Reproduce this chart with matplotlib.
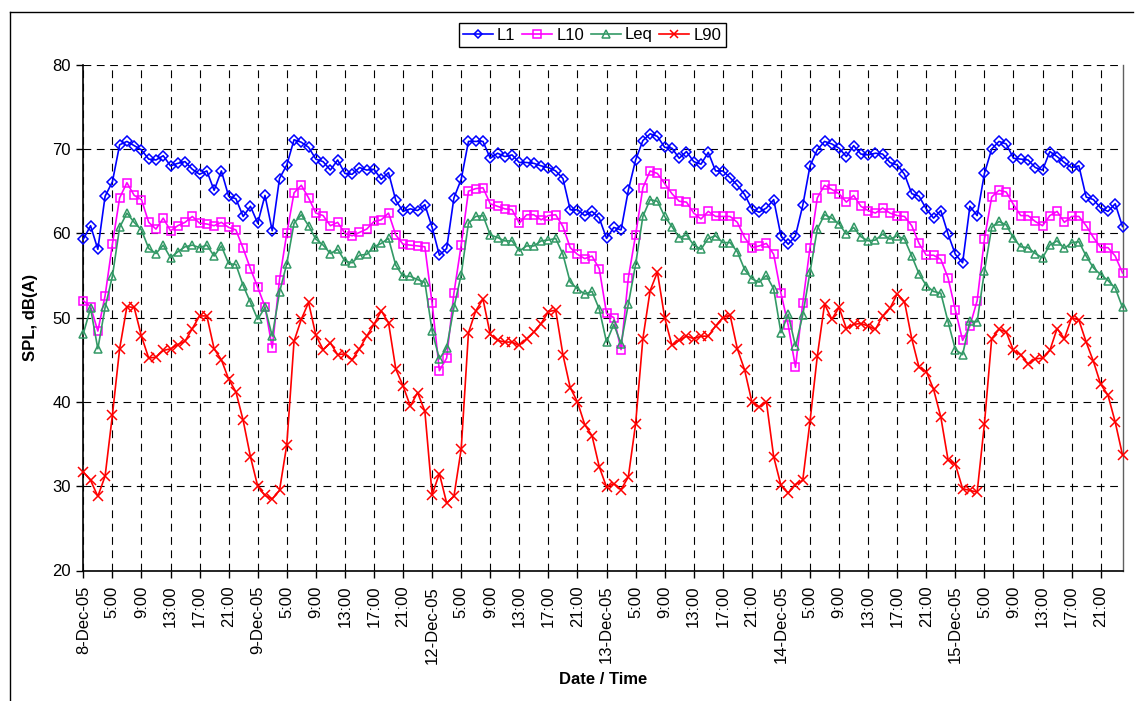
import matplotlib
matplotlib.use("Agg")
import matplotlib.pyplot as plt
from matplotlib.lines import Line2D

plt.rcParams['font.family'] = ['Liberation Sans', 'DejaVu Sans']

tick_labels = []
days = ["8-Dec-05", "9-Dec-05", "12-Dec-05", "13-Dec-05", "14-Dec-05", "15-Dec-05"]
hours = ["5:00", "9:00", "13:00", "17:00", "21:00"]
for d in days:
    tick_labels.append(d)
    tick_labels.extend(hours)

L1 = [59.3, 60.9, 58.1, 64.4, 66.1, 70.5, 70.9, 70.4, 69.9, 68.8, 68.7, 69.2, 68.0, 68.3, 68.5, 67.6,
      67.0, 67.4, 65.1, 67.4, 64.4, 64.1, 62.0, 63.2, 61.2, 64.5, 60.3, 66.5, 68.1, 71.1, 70.8, 70.2,
      68.8, 68.5, 67.5, 68.7, 67.1,
      67.0, 67.8, 67.5, 67.6, 66.4, 67.2, 63.9, 62.6, 62.9, 62.7, 63.4, 60.7, 57.4, 58.2, 64.2, 66.4,
      70.9, 70.9, 70.9, 68.9, 69.5, 69.1, 69.3, 68.4, 68.4, 68.3, 68.0, 67.8, 67.4, 66.5, 62.8, 62.8,
      62.1, 62.6, 61.8, 59.4,
      60.7, 60.4, 65.1, 68.7, 71.0, 71.8, 71.5, 70.2, 70.1, 68.9, 69.7, 68.5, 68.2, 69.6, 67.4, 67.4,
      66.6, 65.7, 64.6, 62.9, 62.5, 63.0, 64.0, 59.7, 58.7, 59.7, 63.3, 68.0, 69.9, 70.9, 70.6, 70.1,
      69.1, 70.4, 69.4, 69.3,
      69.5, 69.4, 68.4, 68.1, 67.0, 64.7, 64.4, 62.9, 61.8, 62.7, 59.9, 57.5, 56.5, 63.2, 62.1, 67.1,
      70.0, 70.9, 70.6, 68.9, 68.8, 68.7, 67.8, 67.5, 69.7, 69.1, 68.4, 67.8, 68.0, 64.3, 64.0, 63.0,
      62.6, 63.5, 60.8]

L10 = [52.0, 51.3, 48.4, 52.6, 58.7, 64.2, 66.0, 64.5, 64.0, 61.3, 60.5, 61.8, 60.3, 60.9, 61.3, 62.0,
       61.2, 61.1, 60.9, 61.3, 60.7, 60.4, 58.2, 55.8, 53.6, 51.3, 46.4, 54.5, 60.0, 64.8, 65.7, 64.2,
       62.4, 62.1, 60.9, 61.3, 60.0,
       59.7, 60.1, 60.5, 61.4, 61.6, 62.4, 59.8, 58.7, 58.6, 58.5, 58.4, 51.7, 43.7, 45.2, 52.9, 58.6,
       65.0, 65.3, 65.4, 63.5, 63.2, 62.9, 62.8, 61.2, 62.2, 62.2, 61.6, 62.1, 62.2, 60.8, 58.3, 57.5,
       57.0, 57.3, 55.8, 50.5,
       50.0, 46.2, 54.7, 59.8, 65.4, 67.4, 67.1, 65.9, 64.7, 63.8, 63.7, 62.4, 61.7, 62.6, 62.0, 62.0,
       62.0, 61.3, 59.5, 58.3, 58.5, 58.8, 57.5, 52.9, 49.1, 44.1, 51.7, 58.3, 64.2, 65.7, 65.2, 64.7,
       63.7, 64.5, 63.2, 62.7,
       62.4, 63.0, 62.4, 62.1, 62.0, 60.9, 58.8, 57.4, 57.4, 56.9, 54.7, 50.9, 47.3, 49.0, 52.0, 59.3,
       64.3, 65.1, 64.9, 63.4, 62.1, 62.1, 61.4, 60.9, 62.1, 62.6, 61.3, 62.0, 62.0, 60.9, 59.5, 58.3,
       58.3, 57.3, 55.3]

Leq = [48.1, 51.1, 46.3, 51.2, 54.9, 60.7, 62.4, 61.3, 60.4, 58.2, 57.6, 58.6, 57.1, 57.8, 58.4, 58.6,
       58.3, 58.6, 57.3, 58.5, 56.4, 56.3, 53.8, 51.8, 49.8, 51.2, 47.8, 53.0, 56.4, 61.2, 62.2, 60.9,
       59.3, 58.6, 57.6, 58.1, 56.7,
       56.5, 57.4, 57.5, 58.4, 58.8, 59.4, 56.2, 54.9, 54.9, 54.5, 54.2, 48.4, 45.1, 46.4, 51.2, 55.1,
       61.2, 62.0, 62.1, 59.8, 59.5, 59.1, 59.1, 57.9, 58.5, 58.5, 59.1, 59.2, 59.4, 57.5, 54.2, 53.4,
       52.8, 53.1, 51.0, 47.1,
       49.2, 46.9, 51.6, 56.3, 62.0, 64.0, 63.8, 62.0, 60.8, 59.5, 59.8, 58.6, 58.1, 59.4, 59.7, 58.9,
       58.9, 57.8, 55.7, 54.6, 54.2, 55.0, 53.4, 48.2, 50.4, 46.6, 50.3, 55.4, 60.5, 62.2, 61.8, 61.1,
       59.9, 60.7, 59.6, 59.1,
       59.2, 59.9, 59.3, 59.7, 59.3, 57.3, 55.2, 53.8, 53.1, 52.9, 49.5, 46.2, 45.6, 49.6, 49.5, 55.5,
       60.7, 61.4, 61.0, 59.4, 58.4, 58.3, 57.6, 57.1, 58.6, 59.1, 58.2, 58.9, 59.0, 57.3, 55.9, 55.1,
       54.4, 53.5, 51.2]

L90 = [31.7, 30.7, 28.8, 31.2, 38.4, 46.3, 51.3, 51.2, 47.8, 45.2, 45.3, 46.1, 46.3, 46.8, 47.2, 48.7,
       50.2, 50.2, 46.3, 45.0, 42.7, 41.2, 37.8, 33.5, 30.0, 28.9, 28.5, 29.5, 34.9, 47.2, 49.8, 51.8,
       47.9, 46.2, 47.0, 45.6, 45.7,
       45.0, 46.3, 47.8, 49.2, 50.8, 49.4, 43.9, 41.9, 39.5, 41.1, 38.9, 29.0, 31.5, 28.0, 28.8, 34.4,
       48.2, 50.8, 52.2, 48.0, 47.3, 47.1, 47.1, 46.7, 47.5, 48.3, 49.3, 50.7, 50.9, 45.6, 41.7, 40.0,
       37.3, 36.0, 32.3, 29.9,
       30.3, 29.6, 31.1, 37.4, 47.5, 53.2, 55.4, 50.0, 46.7, 47.3, 47.8, 47.5, 47.8, 47.8, 49.0, 50.0,
       50.3, 46.3, 43.8, 40.0, 39.4, 40.0, 33.5, 30.1, 29.2, 30.2, 30.7, 37.7, 45.4, 51.6, 49.8, 51.2,
       48.7, 49.2, 49.3, 49.0,
       48.6, 50.2, 51.1, 52.8, 51.9, 47.5, 44.1, 43.6, 41.5, 38.2, 33.1, 32.6, 29.7, 29.5, 29.3, 37.4,
       47.5, 48.6, 48.3, 46.1, 45.6, 44.5, 45.1, 45.2, 46.1, 48.7, 47.5, 50.0, 49.7, 47.1, 44.8, 42.1,
       40.8, 37.6, 33.7]

x = list(range(len(L1)))

fig = plt.figure(figsize=(11.35, 7.01), dpi=100)
ax = fig.add_axes([83.3 / 1135, 1 - 570.5 / 701, (1122.5 - 83.3) / 1135, (570.5 - 64.7) / 701])

series = [
    (L1, "L1", "#0000FF", "D", 5.0),
    (L10, "L10", "#FF00FF", "s", 6.0),
    (Leq, "Leq", "#339966", "^", 6.0),
    (L90, "L90", "#FF0000", "x", 6.5),
]
handles = []
for data, name, col, mk, ms in series:
    h, = ax.plot(x, data, color=col, marker=mk, markersize=ms, markerfacecolor="none",
                 markeredgecolor=col, markeredgewidth=1.1, linewidth=1.2, label=name,
                 clip_on=False, zorder=3)
    handles.append(h)

ax.set_xlim(0, len(L1) - 1)
ax.set_ylim(20, 80)
ax.set_yticks(range(20, 81, 10))
ticks = list(range(0, len(L1), 4))
ax.set_xticks(ticks)
ax.set_xticklabels(tick_labels[:len(ticks)], rotation=90)

ax.tick_params(axis="both", direction="out", length=5, width=1, labelsize=12, pad=4)
ax.tick_params(axis="x", pad=6)

ax.grid(True, color="black", linestyle=(0, (7, 5)), linewidth=0.8, zorder=1)
ax.set_axisbelow(True)

for s in ["left", "bottom"]:
    ax.spines[s].set_color("black")
    ax.spines[s].set_linewidth(1.2)
ax.spines["top"].set_visible(False)
ax.spines["right"].set_color("#606060")
ax.spines["right"].set_linewidth(1.0)

ax.set_ylabel("SPL, dB(A)", fontsize=12, fontweight="bold", labelpad=10)
ax.set_xlabel("Date / Time", fontsize=12, fontweight="bold", labelpad=6)

leg = fig.legend(handles=handles, loc="center", bbox_to_anchor=(592 / 1135, 1 - 35 / 701), ncol=4,
                 fontsize=12, frameon=True, fancybox=False, edgecolor="black", framealpha=1,
                 handlelength=1.8, handletextpad=0.25, columnspacing=0.4, borderpad=0.25,
                 borderaxespad=0, markerscale=0.85)
leg.get_frame().set_linewidth(1.0)

# outer chart-area border
fig.add_artist(Line2D([10 / 1135, 1133 / 1135], [1 - 12 / 701, 1 - 12 / 701], color="black",
                      linewidth=1.0, transform=fig.transFigure))
fig.add_artist(Line2D([10 / 1135, 10 / 1135], [0, 1 - 12 / 701], color="black",
                      linewidth=1.0, transform=fig.transFigure))

fig.savefig("out.png", dpi=100)
